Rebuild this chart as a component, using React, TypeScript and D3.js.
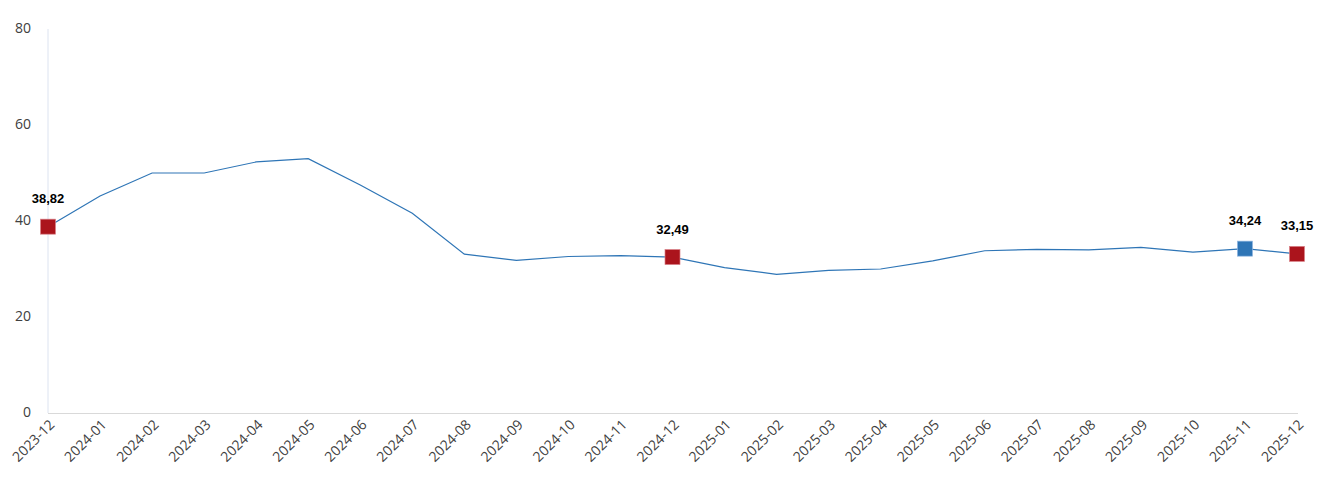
import React from "react";
import * as d3 from "d3";

const categories = ["2023-12","2024-01","2024-02","2024-03","2024-04","2024-05","2024-06","2024-07","2024-08","2024-09","2024-10","2024-11","2024-12","2025-01","2025-02","2025-03","2025-04","2025-05","2025-06","2025-07","2025-08","2025-09","2025-10","2025-11","2025-12"];
const values = [38.82,45.2,50.0,50.0,52.3,53.0,47.5,41.6,33.1,31.8,32.6,32.8,32.49,30.3,28.9,29.7,30.0,31.7,33.8,34.1,34.0,34.5,33.5,34.24,33.15];
const yTicks = [0,20,40,60,80];
const redMarkers = ["2023-12","2024-12","2025-12"];
const blueMarkers = ["2025-11"];

export default function App() {
  const W = 1323, H = 495;
  const x = d3.scalePoint<string>().domain(categories).range([48, 1297]);
  const y = d3.scaleLinear().domain([0, 80]).range([413, 29]);
  const line = d3.line<number>().x((_, i) => x(categories[i])!).y(d => y(d));
  const marked = [...redMarkers.map(c => ({ c, col: "#AB141C" })), ...blueMarkers.map(c => ({ c, col: "#2E75B6" }))];
  const fmt = (v: number) => v.toFixed(2).replace(".", ",");
  return (
    <svg width={W} height={H} style={{ position: "absolute", left: 0, top: 0, background: "#fff" }}>
      <line x1={48} x2={48} y1={29} y2={413} stroke="#DCE3F0" strokeWidth={1} />
      <line x1={48} x2={1298} y1={413.5} y2={413.5} stroke="#D9D9D9" strokeWidth={1} />
      {yTicks.map(t => (
        <text key={t} x={31} y={y(t)} dy="0.3em" textAnchor="end" fontFamily="'Open Sans', sans-serif" fontSize={14} fill="#404040">{t}</text>
      ))}
      {categories.map(c => (
        <text key={c} transform={`translate(${x(c)! + 4},${422}) rotate(-45)`} textAnchor="end" dy="0.35em" fontFamily="'Open Sans', sans-serif" fontSize={14} fill="#404040">{c}</text>
      ))}
      <path d={line(values)!} fill="none" stroke="#2E75B6" strokeWidth={1.2} />
      {marked.map(({ c, col }) => {
        const i = categories.indexOf(c);
        const cx = x(c)!, cy = y(values[i]);
        return (
          <g key={c}>
            <rect x={cx - 7.5} y={cy - 7.5} width={15} height={15} fill={col} stroke={col === "#AB141C" ? "#D98088" : "#8DB4E0"} strokeWidth={0.7} />
            <text x={cx} y={cy - 28} dy="0.35em" textAnchor="middle" fontFamily="'Liberation Sans', Arial, sans-serif" fontWeight="bold" fontSize={13} fill="#000">{fmt(values[i])}</text>
          </g>
        );
      })}
    </svg>
  );
}
